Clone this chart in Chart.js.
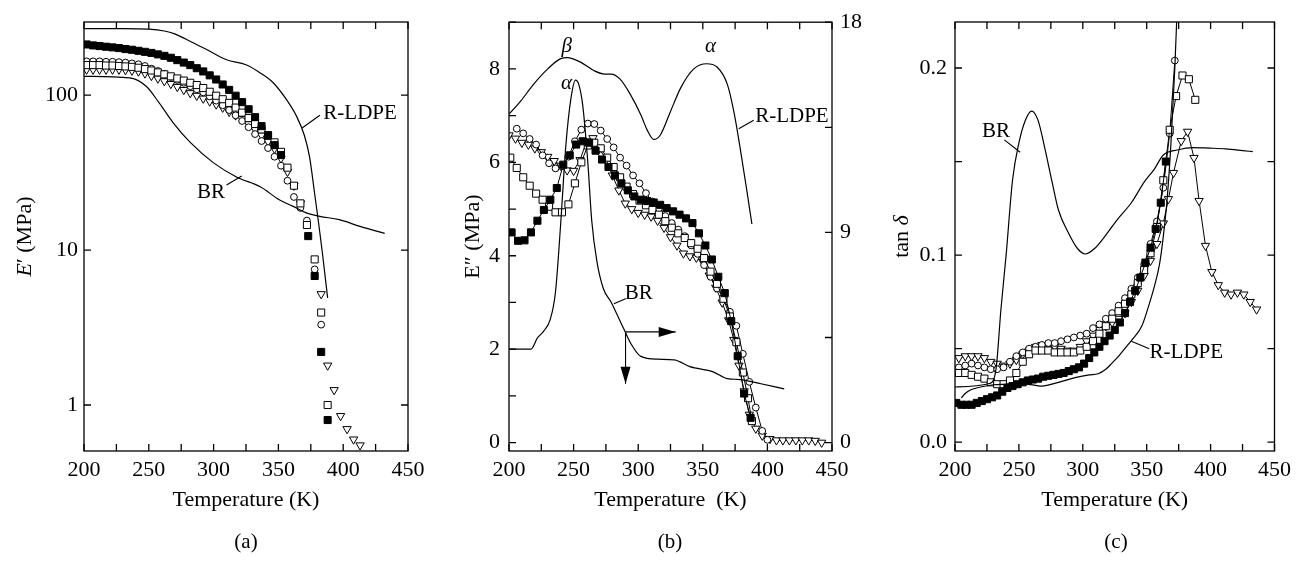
<!DOCTYPE html>
<html>
<head>
<meta charset="utf-8">
<script src="https://cdn.jsdelivr.net/npm/chart.js@4.4.0/dist/chart.umd.min.js"></script>
<style>
  body { margin: 0; background: #fff; width: 1297px; height: 574px; overflow: hidden; position: relative; }
  canvas { position: absolute; top: 0; }
  .cap { position: absolute; top: 529px; transform: translateX(-50%); font: 21px "Liberation Serif", serif; line-height: 24px; color: #000; }
</style>
</head>
<body>
<canvas id="panelA" width="440" height="574" style="left:0px"></canvas>
<canvas id="panelB" width="440" height="574" style="left:440px"></canvas>
<canvas id="panelC" width="417" height="574" style="left:880px"></canvas>
<div class="cap" style="left:246px">(a)</div>
<div class="cap" style="left:670px">(b)</div>
<div class="cap" style="left:1116px">(c)</div>
<script>
// ---- (a) storage modulus E' (MPa), log axis ----
const aSqFilledT = [202,207,212,217,222,227,232,237,242,247,252,257,262,267,272,277,282,287,292,297,302,307,312,317,322,327,332,337,342,347,352,373,378,383,388];
const aSqFilledE = [212,209,207,205,203,201,198,196,193,190,187,183,179,174,168,162,156,149,142,134,126,117,108,99,90,81,72,63,55,47.5,41,12.3,6.8,2.2,0.8];
const aCircT = [202,207,212,217,222,227,232,237,242,247,252,257,262,267,272,277,282,287,292,297,302,307,312,317,322,327,332,337,342,347,352,357,362,367,372,378,383];
const aCircE = [165,165,165,164,164,163,162,160,158,154,148,143,137,131,125,120,114,109,104,98,92,86,80,74,68,62,56,50.5,45.5,40,35,28,22,18.7,15.5,7.5,3.3];
const aSqOpenT = [202,207,212,217,222,227,232,237,242,247,252,257,262,267,272,277,282,287,292,297,302,307,312,317,322,327,332,337,342,347,352,357,362,367,372,378,383,388];
const aSqOpenE = [156,156,156,155,155,154,153,152,150,147,144,140,136,132,128,124,120,116,111,105,99,94,89,83,77,71,65,60,55,49.5,43,34,26,20,14.5,8.7,3.95,1.0];
const aTriT = [202,207,212,217,222,227,232,237,242,247,252,257,262,267,272,277,282,287,292,297,302,307,312,317,322,327,332,337,342,347,352,357,362,367,383,388,393,398,403,408,413];
const aTriE = [146,146,146,146,146,146,145,144,142,138,133,128,123,118,113,108,103,99,95,91,87,83,78,74,70,65,60,55,50,45,39,32,26,20,5.2,1.8,1.25,0.85,0.7,0.6,0.55];
const aRldpeT = [200,230,250,262,270,283,295,310,325,336,346,356,364,370,374,378,381,384,388];
const aRldpeE = [268,268,266,259,248,220,196,169,157,139,120,94,73,55,40,23,15,9.5,4.9];
const aBrT = [200,235,248,258,269,282,300,318,336,351,361,372,382,397,413,432];
const aBrE = [132,129,114,89,66,49.5,36.5,29.5,25.6,21,19.2,17.3,16.5,15.7,14.2,12.8];
const aTickValues = [1, 10, 100];

// ---- (b) loss modulus E'' (MPa); BR read on the right axis ----
const bSqFilledT = [202,207,212,217,222,227,232,237,242,247,252,257,262,267,272,277,282,287,292,297,302,307,312,317,322,327,332,337,342,347,352,357,362,367,372,377,382,387];
const bSqFilledE = [4.5,4.32,4.33,4.5,4.75,4.98,5.2,5.45,5.95,6.15,6.38,6.45,6.42,6.25,6.06,5.9,5.72,5.55,5.4,5.27,5.2,5.17,5.14,5.09,5.02,4.95,4.88,4.8,4.7,4.48,4.22,3.92,3.55,3.2,2.6,1.85,1.05,0.53];
const bCircT = [206,211,216,221,226,231,236,241,246,251,256,261,266,271,276,281,286,291,296,301,306,311,316,321,326,331,336,341,346,351,356,361,366,371,376,381,386,391,396,400];
const bCircE = [6.72,6.62,6.5,6.38,6.15,5.98,5.87,5.92,6.12,6.45,6.7,6.83,6.82,6.68,6.5,6.32,6.1,5.93,5.72,5.55,5.34,5.16,5.01,4.85,4.7,4.56,4.42,4.22,4.04,3.8,3.55,3.3,3.1,2.8,2.5,1.9,1.3,0.75,0.25,0.06];
const bSqOpenT = [201,206,211,216,221,226,231,236,241,246,251,256,261,266,271,276,281,286,291,296,301,306,311,316,321,326,331,336,341,346,351,356,361,366,371,376,381,385,388];
const bSqOpenE = [6.1,5.88,5.68,5.5,5.33,5.2,5.05,4.93,4.93,5.1,5.55,6.0,6.36,6.42,6.3,6.1,5.9,5.68,5.48,5.32,5.18,5.08,4.98,4.88,4.74,4.6,4.48,4.38,4.27,4.15,3.95,3.66,3.4,3.08,2.7,2.15,1.5,0.95,0.46];
const bTriT = [200,205,210,215,220,225,230,235,240,245,250,255,260,265,270,275,280,285,290,295,300,305,310,315,320,325,330,335,340,345,350,355,360,365,370,374,378,382,386,391,396,402,407,412,417,422,427,432,437,442];
const bTriE = [6.58,6.51,6.42,6.38,6.3,6.22,6.12,6.03,5.93,5.83,5.82,6.05,6.45,6.52,6.3,6.05,5.72,5.4,5.12,5.0,4.92,4.88,4.84,4.75,4.6,4.4,4.22,4.05,3.99,3.96,3.87,3.58,3.32,3.0,2.62,2.2,1.65,1.1,0.6,0.3,0.15,0.08,0.05,0.05,0.05,0.05,0.05,0.05,0.04,0.0];
const bRldpeT = [200,209,219,230,240,245,255,266,274,279,286,294,302,307,312,317,325,333,343,353,361,369,374,379,384,388];
const bRldpeE = [7.03,7.31,7.67,8.0,8.22,8.24,8.15,7.96,7.89,7.89,7.78,7.45,7.02,6.69,6.49,6.58,7.09,7.6,8.0,8.11,8.04,7.67,7.09,6.29,5.41,4.68];
const bBrT = [200,217,222,227,232,236,240,244,248,251.5,254,257,261,264,268,273,279,284,289,294,302,315,328,340,358,369,379,395,413];
const bBrE = [4.0,4.0,4.48,4.78,5.29,6.46,9.37,12.72,14.76,15.52,15.34,14.47,12.0,9.52,7.77,6.6,6.02,5.44,4.85,4.27,3.69,3.57,3.54,3.25,3.03,2.74,2.7,2.52,2.3];

// ---- (c) tan delta ----
const cSqFilledT = [201,205,209,213,217,221,225,229,233,237,241,245,249,253,257,261,265,269,273,277,281,285,289,293,297,301,305,309,313,317,321,325,329,333,337,341,345,349,353,357,361,365];
const cSqFilledV = [0.021,0.020,0.020,0.020,0.021,0.022,0.023,0.024,0.025,0.027,0.029,0.030,0.031,0.032,0.033,0.0335,0.034,0.035,0.0355,0.036,0.0365,0.037,0.038,0.039,0.040,0.042,0.045,0.048,0.051,0.054,0.057,0.060,0.064,0.069,0.075,0.081,0.088,0.096,0.104,0.114,0.128,0.150];
const cCircT = [203,208,213,218,223,228,233,238,243,248,253,258,263,268,273,278,283,288,293,298,303,308,313,318,323,328,333,338,343,348,353,358,363,368,372];
const cCircV = [0.040,0.041,0.042,0.041,0.040,0.039,0.039,0.040,0.043,0.046,0.048,0.050,0.051,0.052,0.053,0.053,0.054,0.055,0.056,0.057,0.058,0.061,0.063,0.066,0.069,0.073,0.077,0.082,0.088,0.095,0.106,0.118,0.136,0.165,0.204];
const cSqOpenT = [203,208,213,218,223,228,233,238,243,248,253,258,263,268,273,278,283,288,293,298,303,308,313,318,323,328,333,338,343,348,353,358,363,368,373,378,383,388];
const cSqOpenV = [0.037,0.037,0.036,0.035,0.034,0.032,0.031,0.031,0.033,0.037,0.043,0.047,0.049,0.049,0.049,0.048,0.048,0.048,0.048,0.049,0.051,0.054,0.058,0.062,0.066,0.070,0.074,0.079,0.085,0.092,0.101,0.115,0.140,0.167,0.185,0.196,0.194,0.183];
const cTriT = [203,208,213,218,223,228,233,238,243,248,253,258,263,268,273,278,283,288,293,298,303,308,313,318,323,328,333,338,343,348,353,358,363,367,371,377,382,387,391,396,401,406,411,416,421,426,431,436];
const cTriV = [0.045,0.046,0.046,0.046,0.045,0.043,0.042,0.041,0.042,0.044,0.047,0.049,0.051,0.052,0.052,0.051,0.050,0.049,0.049,0.051,0.054,0.057,0.060,0.062,0.064,0.066,0.069,0.075,0.081,0.089,0.097,0.106,0.117,0.130,0.144,0.161,0.166,0.152,0.129,0.105,0.091,0.084,0.080,0.079,0.080,0.079,0.075,0.071];
const cRldpeT = [205,208,212,220,230,240,253,262,268,281,294,305,312,318,322.5,328,333,338,346,351,356,360,363,366,369,372,374];
const cRldpeV = [0.0237,0.026,0.0279,0.0295,0.0307,0.031,0.0312,0.0305,0.030,0.032,0.0345,0.036,0.0366,0.039,0.042,0.046,0.0502,0.0543,0.0618,0.0717,0.0833,0.095,0.11,0.13,0.16,0.2,0.235];
const cBrT = [200,227,232,236,240,245,250,255,260,265,270,276,281,289,296,302,309,317,327,338,348,356,363,374,386,399,412,425,433];
const cBrV = [0.0295,0.0314,0.0387,0.0715,0.100,0.140,0.160,0.172,0.177,0.172,0.158,0.139,0.124,0.1116,0.1034,0.1006,0.1034,0.1098,0.119,0.128,0.139,0.146,0.1535,0.1562,0.1575,0.1572,0.1568,0.1559,0.1553];

// curve labels and their leader lines, in data units
const aNotes = [{text: 'R-LDPE', x: 413, y: 76}, {text: 'BR', x: 298, y: 23.4}];
const aLeaders = [[382, 74, 368, 61], [310, 26.3, 321.7, 30]];
const bNotes = [{text: 'β', x: 244.6, y: 8.47, it: true}, {text: 'α', x: 244.6, y: 7.69, it: true},
                {text: 'α', x: 356, y: 8.47, it: true}, {text: 'R-LDPE', x: 419, y: 6.98}, {text: 'BR', x: 300.5, y: 3.19}];
const bLeaders = [[389.4, 6.9, 377.8, 6.72], [290.2, 3.08, 281.2, 2.97]];
const bArrows = [[290.2, 2.37, 329, 2.37], [290.2, 2.37, 290.2, 1.26]];
const cNotes = [{text: 'BR', x: 232, y: 0.166}, {text: 'R-LDPE', x: 381, y: 0.0477}];
const cLeaders = [[238.6, 0.1616, 251, 0.155], [352, 0.050, 338, 0.054]];

// y-axis titles, with the italic parts marked
const aYTitle = [{t: 'E', it: true}, {t: '\u2032 (MPa)'}];
const bYTitle = [{t: 'E\u2033 (MPa)'}];
const cYTitle = [{t: 'tan '}, {t: '\u03b4', it: true}];

const FRAME_TOP = 22;
const FRAME_BOTTOM = 451;
const SERIF = '"Liberation Serif", "Times New Roman", serif';
const TICK_FONT = {family: SERIF, size: 22};
const TITLE_FONT = {family: SERIF, size: 22};

const pts = (xs, ys) => xs.map((x, i) => ({x: x, y: ys[i]}));

function markers(xs, ys, kind, joined, axis) {
  const ds = {
    data: pts(xs, ys), showLine: joined, borderColor: '#000', borderWidth: 1,
    pointBorderColor: '#000', pointBorderWidth: 1, tension: 0, yAxisID: axis || 'y'
  };
  if (kind === 'filledSquare') Object.assign(ds, {pointStyle: 'rect', pointRadius: 5, pointBackgroundColor: '#000'});
  if (kind === 'openSquare') Object.assign(ds, {pointStyle: 'rect', pointRadius: 5, pointBackgroundColor: '#fff'});
  if (kind === 'circle') Object.assign(ds, {pointStyle: 'circle', pointRadius: 3.4, pointBackgroundColor: '#fff'});
  if (kind === 'triangle') Object.assign(ds, {pointStyle: 'triangle', pointRadius: 4.8, pointRotation: 180, pointBackgroundColor: '#fff'});
  return ds;
}

function curve(xs, ys, axis) {
  return {
    data: pts(xs, ys), showLine: true, borderColor: '#000', borderWidth: 1.2,
    pointRadius: 0, cubicInterpolationMode: 'monotone', yAxisID: axis || 'y'
  };
}

// frame, inward ticks on all four sides, y title, curve labels, leader lines, arrows
const decor = {
  id: 'decor',
  afterDatasetsDraw(chart, args, opts) {
    const {ctx, chartArea: a, scales} = chart;
    const x = scales.x, yl = scales.y, yr = scales.y2 || scales.y;
    ctx.save();
    ctx.strokeStyle = '#000';
    ctx.lineWidth = 1.3;
    ctx.strokeRect(a.left, a.top, a.right - a.left, a.bottom - a.top);
    const len = 7;
    ctx.beginPath();
    x.ticks.forEach(t => {
      const p = x.getPixelForValue(t.value);
      ctx.moveTo(p, a.bottom); ctx.lineTo(p, a.bottom - len);
      ctx.moveTo(p, a.top); ctx.lineTo(p, a.top + len);
    });
    yl.ticks.forEach(t => {
      const p = yl.getPixelForValue(t.value);
      ctx.moveTo(a.left, p); ctx.lineTo(a.left + len, p);
    });
    yr.ticks.forEach(t => {
      const p = yr.getPixelForValue(t.value);
      ctx.moveTo(a.right, p); ctx.lineTo(a.right - len, p);
    });
    ctx.stroke();

    ctx.lineWidth = 1.1;
    ctx.beginPath();
    (opts.leaders || []).forEach(l => {
      ctx.moveTo(x.getPixelForValue(l[0]), yl.getPixelForValue(l[1]));
      ctx.lineTo(x.getPixelForValue(l[2]), yl.getPixelForValue(l[3]));
    });
    ctx.stroke();

    (opts.arrows || []).forEach(l => {
      const x1 = x.getPixelForValue(l[0]), y1 = yl.getPixelForValue(l[1]);
      const x2 = x.getPixelForValue(l[2]), y2 = yl.getPixelForValue(l[3]);
      const ang = Math.atan2(y2 - y1, x2 - x1);
      ctx.beginPath();
      ctx.moveTo(x1, y1); ctx.lineTo(x2, y2); ctx.stroke();
      ctx.beginPath();
      ctx.moveTo(x2, y2);
      ctx.lineTo(x2 - 17 * Math.cos(ang) + 5 * Math.sin(ang), y2 - 17 * Math.sin(ang) - 5 * Math.cos(ang));
      ctx.lineTo(x2 - 17 * Math.cos(ang) - 5 * Math.sin(ang), y2 - 17 * Math.sin(ang) + 5 * Math.cos(ang));
      ctx.closePath();
      ctx.fillStyle = '#000';
      ctx.fill();
    });

    ctx.fillStyle = '#000';
    ctx.textAlign = 'center';
    ctx.textBaseline = 'middle';
    (opts.notes || []).forEach(n => {
      ctx.font = (n.it ? 'italic ' : '') + '21px ' + SERIF;
      ctx.fillText(n.text, x.getPixelForValue(n.x), yl.getPixelForValue(n.y));
    });

    // rotated y title made of upright and italic pieces
    if (opts.yTitle) {
      const parts = opts.yTitle.map(p => {
        ctx.font = (p.it ? 'italic ' : '') + TITLE_FONT.size + 'px ' + SERIF;
        return {t: p.t, f: ctx.font, w: ctx.measureText(p.t).width};
      });
      const total = parts.reduce((s, p) => s + p.w, 0);
      ctx.translate(a.left - opts.titleGap, (a.top + a.bottom) / 2);
      ctx.rotate(-Math.PI / 2);
      ctx.textAlign = 'left';
      let px = -total / 2;
      parts.forEach(p => { ctx.font = p.f; ctx.fillText(p.t, px, 0); px += p.w; });
    }
    ctx.restore();
  }
};

function tempAxis(title) {
  return {
    type: 'linear', min: 200, max: 450,
    border: {display: false},
    grid: {display: false, drawTicks: false},
    ticks: {
      stepSize: 25, includeBounds: false, padding: 6, color: '#000', font: TICK_FONT,
      maxRotation: 0, autoSkip: false,
      callback: v => (v % 50 === 0 ? String(v) : '')
    },
    title: {display: true, text: title, color: '#000', font: TITLE_FONT, padding: {top: 0, bottom: 61}},
    afterFit: s => { s.height = 574 - FRAME_BOTTOM; }
  };
}

function valueAxis(extra, width) {
  const ax = {
    border: {display: false},
    grid: {display: false, drawTicks: false},
    ticks: {includeBounds: false, color: '#000', font: TICK_FONT, padding: 7},
    afterFit: s => { s.width = width; }
  };
  Object.keys(extra).forEach(k => {
    if (k === 'ticks') Object.assign(ax.ticks, extra.ticks); else ax[k] = extra[k];
  });
  return ax;
}

function makeChart(id, datasets, scales, padRight, deco) {
  return new Chart(document.getElementById(id), {
    type: 'scatter',
    data: {datasets: datasets},
    options: {
      responsive: false,
      animation: false,
      layout: {padding: {left: 0, right: padRight, top: FRAME_TOP, bottom: 0}},
      plugins: {legend: {display: false}, tooltip: {enabled: false}, decor: deco},
      scales: scales
    },
    plugins: [decor]
  });
}

makeChart('panelA', [
  curve(aRldpeT, aRldpeE),
  curve(aBrT, aBrE),
  markers(aSqFilledT, aSqFilledE, 'filledSquare', false),
  markers(aSqOpenT, aSqOpenE, 'openSquare', false),
  markers(aCircT, aCircE, 'circle', false),
  markers(aTriT, aTriE, 'triangle', false)
], {
  x: tempAxis('Temperature (K)'),
  y: valueAxis({
    type: 'logarithmic', min: 0.505, max: 296,
    afterBuildTicks: s => { s.ticks = aTickValues.map(v => ({value: v})); },
    ticks: {padding: 6, callback: v => String(v)}
  }, 84)
}, 32, {notes: aNotes, leaders: aLeaders, yTitle: aYTitle, titleGap: 59});

makeChart('panelB', [
  curve(bRldpeT, bRldpeE),
  curve(bBrT, bBrE, 'y2'),
  markers(bSqFilledT, bSqFilledE, 'filledSquare', true),
  markers(bSqOpenT, bSqOpenE, 'openSquare', true),
  markers(bCircT, bCircE, 'circle', true),
  markers(bTriT, bTriE, 'triangle', true)
], {
  x: tempAxis('Temperature  (K)'),
  y: valueAxis({
    type: 'linear', min: -0.18, max: 9,
    ticks: {stepSize: 1, padding: 9, callback: v => (v % 2 === 0 ? String(v) : '')}
  }, 69),
  y2: valueAxis({
    type: 'linear', position: 'right', min: -0.36, max: 18,
    ticks: {stepSize: 4.5, padding: 8, callback: v => (v % 9 === 0 ? String(v) : '')}
  }, 48)
}, 0, {notes: bNotes, leaders: bLeaders, arrows: bArrows, yTitle: bYTitle, titleGap: 36});

makeChart('panelC', [
  curve(cRldpeT, cRldpeV),
  curve(cBrT, cBrV),
  markers(cSqFilledT, cSqFilledV, 'filledSquare', true),
  markers(cSqOpenT, cSqOpenV, 'openSquare', true),
  markers(cCircT, cCircV, 'circle', true),
  markers(cTriT, cTriV, 'triangle', true)
], {
  x: tempAxis('Temperature (K)'),
  y: valueAxis({
    type: 'linear', min: -0.0047, max: 0.2246,
    ticks: {stepSize: 0.05, padding: 8,
      callback: v => (Math.abs(v * 10 - Math.round(v * 10)) < 1e-6 ? v.toFixed(1) : '')}
  }, 75)
}, 19, {notes: cNotes, leaders: cLeaders, yTitle: cYTitle, titleGap: 53});
</script>
</body>
</html>
